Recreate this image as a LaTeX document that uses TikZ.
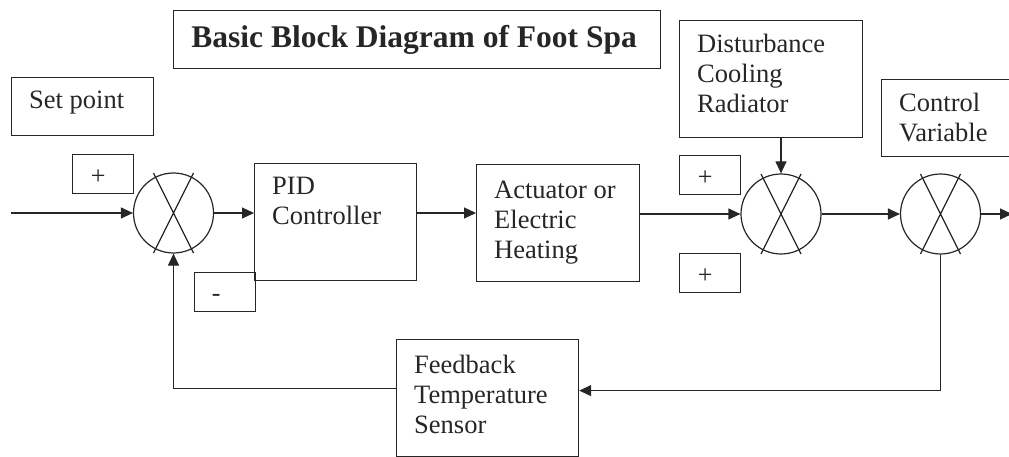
\documentclass[tikz,border=0pt]{standalone}
\usepackage{fontspec}
\setmainfont{Liberation Serif}
\usepackage{tikz}
\usetikzlibrary{calc,arrows.meta,positioning}
\definecolor{ink}{HTML}{262626}
\tikzset{
  box/.style={draw=ink, line width=1.2pt, anchor=north west, inner sep=0pt},
  sumj/.style={draw=ink, line width=1.2pt, circle, minimum size=80pt, inner sep=0pt},
  signtxt/.style={text=ink, font=\fontsize{26}{30}\selectfont, xshift=-5pt, yshift=-3.5pt},
  sign/.style={box, minimum width=61pt, minimum height=39pt, label={[signtxt]center:#1}},
  lbl/.style={anchor=north west, inner xsep=18pt, inner ysep=14pt, align=left, text=ink, font=\fontsize{26.5}{30}\selectfont},
  wire/.style={draw=ink, line width=1.2pt},
  flow/.style={wire, -{Triangle[length=12pt,width=11pt]}},
}
\begin{document}
\begin{tikzpicture}[x=1pt,y=-1pt]
  \useasboundingbox (0,0) rectangle (1009,457);
  % blocks
  \node[box, minimum width=487pt, minimum height=58pt, text=ink,
        font=\bfseries\fontsize{31.5}{36}\selectfont] (title) at (173,10) {Basic Block Diagram of Foot Spa\hspace*{6pt}};
  \node[box, minimum width=142pt, minimum height=58pt, label={[lbl]north west:Set point}] (setpt) at (11,77) {};
  \node[box, minimum width=162pt, minimum height=117pt, label={[lbl]north west:{PID\\Controller}}] (pid) at (254,163) {};
  \node[box, minimum width=163pt, minimum height=117pt, label={[lbl,inner ysep=17pt]north west:{Actuator or\\Electric\\Heating}}] (act) at (476,164) {};
  \node[box, minimum width=183pt, minimum height=117pt, label={[lbl]north west:{Disturbance\\Cooling\\Radiator}}] (dist) at (679,20) {};
  \node[box, minimum width=160pt, minimum height=77pt, label={[lbl]north west:{Control\\Variable}}] (ctrl) at (881,79) {};
  \node[box, minimum width=182pt, minimum height=117pt, label={[lbl,inner ysep=16pt]north west:{Feedback\\Temperature\\Sensor}}] (fb) at (396,339) {};
  % signs
  \node[sign=+] (plusa) at (72,154) {};
  \node[box, minimum width=61pt, minimum height=39pt, label={[signtxt,xshift=-4pt,yshift=-2pt]center:-}] (minus) at (194,272) {};
  \node[sign=+] (plusb) at (679,155) {};
  \node[sign=+] (plusc) at (679,253) {};
  % summing junctions
  \node[sumj] (s1) at (173.5,213) {};
  \node[sumj] (s2) at (781,214) {};
  \node[sumj] (s3) at (940.5,214) {};
  \foreach \s in {s1,s2,s3}
    \draw[wire] ($(\s)+(-20,-40)$) -- ($(\s)+(20,40)$) ($(\s)+(20,-40)$) -- ($(\s)+(-20,40)$);
  % signals
  \coordinate (in) at (11,213);
  \coordinate (out) at (1012,214);
  \draw[flow] (in) -- (s1.west);
  \draw[flow] (s1.east) -- (s1.east -| pid.west);
  \draw[flow] (s1.east -| pid.east) -- (s1.east -| act.west);
  \draw[flow] (act.east |- s2.west) -- (s2.west);
  \draw[flow] (dist.south -| s2.north) -- (s2.north);
  \draw[flow] (s2.east) -- (s3.west);
  \draw[flow] (s3.east) -- (out);
  \draw[flow] (s3.south) |- ([yshift=7.5pt]fb.east);
  \draw[flow] ([yshift=9.5pt]fb.west) -| (s1.south);
\end{tikzpicture}
\end{document}
